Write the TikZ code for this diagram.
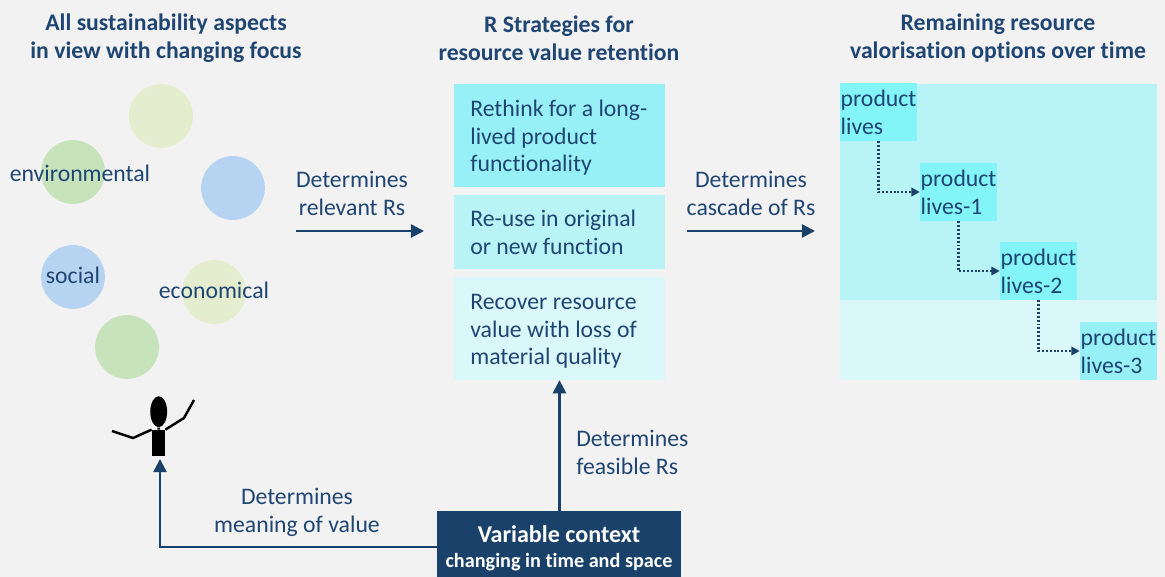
\documentclass[tikz,border=0pt]{standalone}
\usepackage{fontspec}
\setmainfont{Carlito}[Ligatures=NoCommon]
\usetikzlibrary{arrows.meta,shapes.geometric}
\definecolor{navy}{HTML}{1A4169}
\definecolor{inktext}{HTML}{1F4573}
\definecolor{bgrey}{HTML}{F2F2F2}
\definecolor{tealA}{HTML}{97F0F6}
\definecolor{tealB}{HTML}{B8F3F5}
\definecolor{tealC}{HTML}{DAF7F9}
\definecolor{tealD}{HTML}{83F4F8}
\definecolor{blobG}{HTML}{C6E3BC}
\definecolor{blobB}{HTML}{B7D3F2}
\definecolor{blobY}{HTML}{E5EDCF}
\newcommand{\pboxtail}{\rule[-3.6pt]{0pt}{3.6pt}}
\begin{document}
\begin{tikzpicture}[scale=0.2]
\tikzstyle{every node}=[inner sep=0pt,text=inktext,font=\fontsize{13.5}{15.87}\selectfont]
\tikzstyle{title}=[align=center,font=\fontsize{13.5}{15.87}\selectfont\bfseries]
\tikzstyle{note}=[align=center]
\tikzstyle{blob}=[circle,minimum size=36.3pt]
\tikzstyle{rbox}=[minimum width=119.6pt,text width=101.5pt,align=flush left,execute at begin node=\rule{0pt}{14.5pt},execute at end node=\strut]
\tikzstyle{pbox}=[fill=tealD,minimum width=43.7pt,minimum height=33pt,text width=43.1pt,align=flush left,execute at begin node=\rule{0pt}{13.45pt},execute at end node=\pboxtail]
\tikzstyle{flow}=[draw=navy,line width=1.3pt,-{Triangle[length=7.5pt,width=7.5pt]}]
\tikzstyle{cascade}=[draw=navy,line width=1.3pt,dash pattern=on 1.1pt off 1.1pt,-{Triangle[length=4.8pt,width=4.8pt]}]
\tikzstyle{limb}=[draw=black,line width=1.4pt]
\useasboundingbox (0,0) rectangle (116.5,-57.7);
\fill [bgrey] (0,0) rectangle (116.5,-57.7);
% column titles
\node [title] (titleL) at (16.6,-3.8) {All sustainability aspects\\in view with changing focus};
\node [title] (titleM) at (55.9,-3.8) {R Strategies for\\resource value retention};
\node [title] (titleR) at (99.8,-3.8) {Remaining resource\\valorisation options over time};
% circles
\node [blob,fill=blobY] (top) at (16.1,-11.6) {};
\node [blob,fill=blobG] (env) at (7.3,-17.2) {};
\node [blob,fill=blobB] (right) at (23.3,-18.8) {};
\node [blob,fill=blobB] (soc) at (7.3,-27.7) {};
\node [blob,fill=blobY] (eco) at (21.4,-29.2) {};
\node [blob,fill=blobG] (bottom) at (12.7,-34.7) {};
\node (envtext) at (8,-17.3) {environmental};
\node (soctext) at (7.3,-27.5) {social};
\node (ecotext) at (21.4,-29) {economical};
% person
\node [ellipse,fill=black,minimum width=9.6pt,minimum height=17.6pt] (head) at (15.87,-41.17) {};
\node [fill=black,minimum width=7.4pt,minimum height=14.8pt] (body) at (15.85,-44.3) {};
\draw [limb] (head) -- (body);
\draw [limb] (body.north west) -- (13.3,-43.8) -- (11.2,-43.1);
\draw [limb] (body.north east) -- (18.4,-41.8) -- (19.4,-40);
% R strategies
\node [rbox,fill=tealA,minimum height=58.4pt] (rethink) at (55.95,-13.55) {Rethink for a long-\\lived product\\functionality};
\node [rbox,fill=tealB,minimum height=42pt] (reuse) at (55.95,-23.2) {Re-use in original\\or new function};
\node [rbox,fill=tealC,minimum height=58.4pt] (recover) at (55.95,-32.85) {Recover resource\\value with loss of\\material quality};
% panels and product lives
\fill [tealB] (84,-8.4) rectangle (115.7,-30);
\fill [tealC] (84,-30) rectangle (115.7,-38);
\node [pbox] (lives) at (87.85,-11.2) {product\\lives};
\node [pbox] (livesA) at (95.85,-19.2) {product\\lives-1};
\node [pbox] (livesB) at (103.85,-27.1) {product\\lives-2};
\node [pbox,fill=tealA] (livesC) at (111.85,-35.1) {product\\lives-3};
\draw [cascade] (lives.south) |- (livesA.west);
\draw [cascade] (livesA.south) |- (livesB.west);
\draw [cascade] (livesB.south) |- (livesC.west);
% context
\node [fill=navy,minimum width=138.3pt,minimum height=37.4pt] (context) at (55.9,-54.4) {};
\node [text=white,font=\fontsize{13.7}{15}\selectfont\bfseries] (ctxA) at (55.9,-53.4) {Variable context};
\node [text=white,font=\fontsize{11.5}{12}\selectfont\bfseries] (ctxB) at (55.9,-56.2) {changing in time and space};
% labels
\node [note] (relevant) at (35.2,-19.3) {Determines\\relevant Rs};
\node [note] (cascadeR) at (75.1,-19.3) {Determines\\cascade of Rs};
\node [align=left,anchor=west] (feasible) at (57.6,-45.2) {Determines\\feasible Rs};
\node [note] (meaning) at (29.7,-51.2) {Determines\\meaning of value};
% arrows
\coordinate (relA) at (29.6,-23.1);
\coordinate (relB) at (42.4,-23.1);
\coordinate (casA) at (68.7,-23.1);
\coordinate (casB) at (81.5,-23.1);
\coordinate (ctxOut) at (43.7,-54.7);
\coordinate (feet) at (16,-45.9);
\draw [flow] (relA) -- (relB);
\draw [flow] (casA) -- (casB);
\draw [flow] (context.north -| recover.south) -- (recover.south);
\draw [flow] (ctxOut) -| (feet);
\end{tikzpicture}
\end{document}
